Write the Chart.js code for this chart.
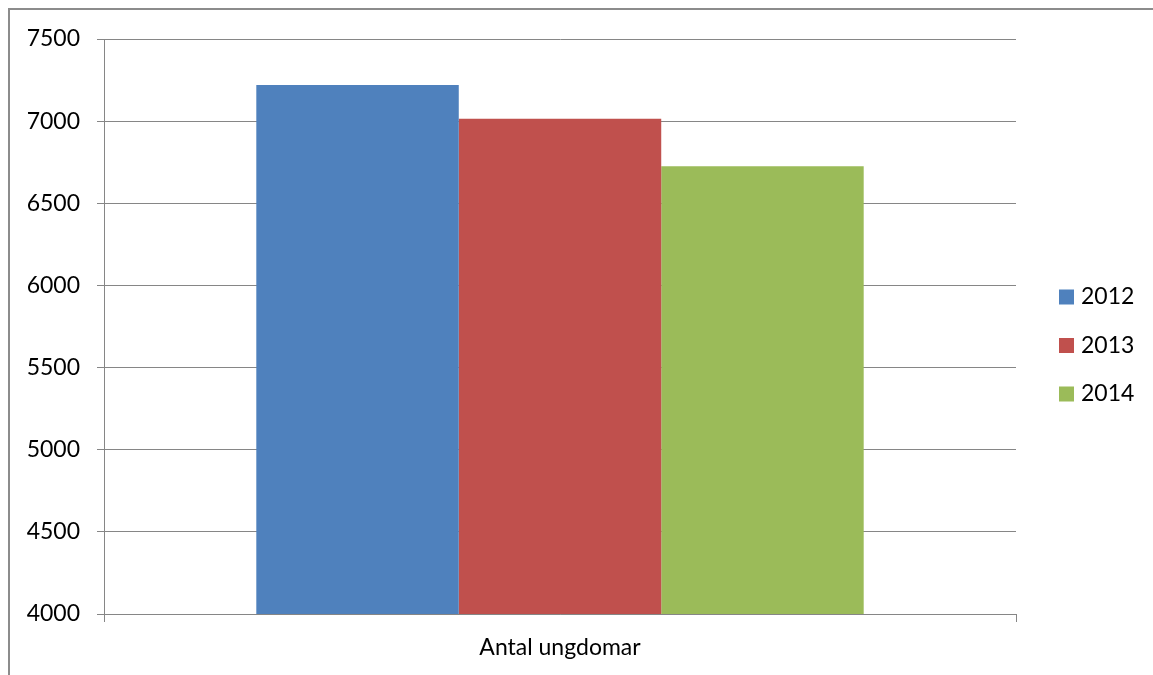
<!DOCTYPE html>
<html>
<head>
<meta charset="utf-8">
<script src="https://cdn.jsdelivr.net/npm/chart.js@4"></script>
<style>
  html, body { margin: 0; padding: 0; background: #fff; overflow: hidden; }
  #frame {
    position: absolute; left: 8px; top: 8px; width: 1300px; height: 800px;
    border-left: 2px solid #8c8c8c; border-top: 2px solid #8c8c8c;
  }
  #chart { position: absolute; left: 0; top: 0; }
</style>
</head>
<body>
<div id="frame"></div>
<canvas id="chart" width="1153" height="675"></canvas>
<script>
const categories = ['Antal ungdomar'];
const years = ['2012', '2013', '2014'];
const antal = [7220, 7015, 6725];
const colors = ['#4F81BD', '#C0504D', '#9BBB59'];
const yTicks = { min: 4000, max: 7500, step: 500 };

const font = { family: 'Lato', size: 23 };
const gridGrey = '#868686';

// legend drawn at the right side like the Excel one
const sideLegend = {
    id: 'sideLegend',
    afterDraw(chart) {
        const ctx = chart.ctx;
        ctx.save();
        ctx.font = font.size + 'px ' + font.family;
        ctx.textBaseline = 'middle';
        chart.data.datasets.forEach((ds, i) => {
            const y = 297 + i * 48.5;
            ctx.fillStyle = ds.backgroundColor;
            ctx.fillRect(1059, y - 7.5, 15, 15);
            ctx.fillStyle = '#000';
            ctx.fillText(ds.label, 1081, y);
        });
        ctx.restore();
    }
};

document.addEventListener('DOMContentLoaded', () => {
    const ctx = document.getElementById('chart').getContext('2d');
    new Chart(ctx, {
        type: 'bar',
        data: {
            labels: categories,
            datasets: years.map((y, i) => ({
                label: y,
                data: [antal[i]],
                backgroundColor: colors[i],
                borderWidth: 0,
                categoryPercentage: 0.666,
                barPercentage: 1.0
            }))
        },
        options: {
            responsive: false,
            animation: false,
            devicePixelRatio: 1,
            layout: { padding: { top: 39, right: 137, left: 0, bottom: 0 } },
            scales: {
                x: {
                    grid: { offset: true, drawOnChartArea: false, tickLength: 8, color: gridGrey },
                    border: { color: gridGrey, width: 1 },
                    ticks: { color: '#000', font: font, padding: 12 },
                    afterFit: s => { s.height = 61; }
                },
                y: {
                    min: yTicks.min,
                    max: yTicks.max,
                    ticks: {
                        stepSize: yTicks.step, color: '#000', font: font, padding: 17,
                        callback: v => String(v)
                    },
                    grid: { color: gridGrey, tickLength: 7 },
                    border: { color: gridGrey, width: 1 },
                    afterFit: s => { s.width = 104; }
                }
            },
            plugins: {
                legend: { display: false },
                tooltip: { enabled: false }
            }
        },
        plugins: [sideLegend]
    });
});
</script>
</body>
</html>
